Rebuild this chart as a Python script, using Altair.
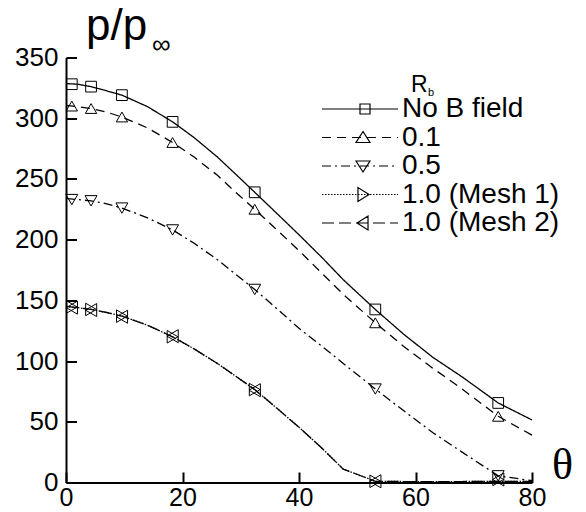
import altair as alt
import pandas as pd

# ---------------- data ----------------
series = ["No B field", "0.1", "0.5", "1.0 (Mesh 1)", "1.0 (Mesh 2)"]

# smooth curves
theta_line = [0, 2, 4.3, 7, 9.6, 14, 18.3, 22, 26, 29, 32.4, 36, 40, 44, 47.6, 53.1, 58, 63, 68, 74.2, 80]
p_line_nob = [328.5, 328, 326, 322.5, 319, 309.5, 297, 284, 268, 254.5, 239, 222.5, 204, 185, 167, 142.5, 122, 103, 87, 65.5, 51.5]
p_line_01 = [310.5, 309.5, 308, 305, 301, 292, 280, 268, 253, 239.5, 225, 209, 191, 172, 155, 131.5, 112, 94, 77, 54.5, 39]
p_line_05 = [234, 233, 232, 229.5, 226, 218, 208, 197, 183.5, 172, 159, 144, 127, 112, 98, 77, 59, 41, 25, 5.5, 1.5]
p_line_m1 = [145, 144, 142.5, 140, 137, 129.5, 120, 110, 98, 88, 76.5, 62, 45.5, 28, 11, 1, 0.8, 0.8, 0.8, 1, 0.8]
p_line_m2 = [145, 144, 142.5, 140, 137, 129.5, 120, 110, 98, 88, 76.5, 62, 45.5, 28, 11, 1, 0.8, 0.8, 0.8, 1, 0.8]

# symbols
theta_mark = [1.0, 4.3, 9.6, 18.3, 32.4, 53.1, 74.2]
p_mark_nob = [328, 326, 319, 297, 239, 142.5, 65.5]
p_mark_01 = [310, 308, 301, 280, 225, 131.5, 54.5]
p_mark_05 = [233, 232, 226, 208, 159, 77, 5.5]
p_mark_m1 = [144.5, 142.5, 137, 120, 76.5, 1, 2.5]
p_mark_m2 = [144, 142, 136.5, 120.5, 76, 1, 2.5]

x_ticks = [0, 20, 40, 60, 80]
y_ticks = [0, 50, 100, 150, 200, 250, 300, 350]

# ---------------- styles ----------------
FONT = "Liberation Sans"
dashes = [[1, 0], [9, 6], [9, 4, 2, 4], [1.5, 1.5], [12, 5]]
shapes = ["square", "triangle-up", "triangle-down", "triangle-right", "triangle-left"]
sizes = [115, 170, 170, 170, 170]

SYM_W = 76.0
HALF = SYM_W / 2


def seg_path(pattern):
    if pattern[1] == 0:
        return "M-1,0H1"
    parts = []
    x = 0.0
    i = 0
    on = True
    while x < SYM_W:
        L = pattern[i % len(pattern)]
        if on:
            x2 = min(x + L, SYM_W)
            parts.append(f"M{x / HALF - 1:.3f},0H{x2 / HALF - 1:.3f}")
        x += L
        i += 1
        on = not on
    return "".join(parts)


def u(px):
    return px / HALF


def marker_path(kind):
    if kind == "square":
        cx, a = u(5), u(5)
        return f"M{cx - a:.3f},{-a:.3f}H{cx + a:.3f}V{a:.3f}H{cx - a:.3f}Z"
    cx = u(3)
    if kind == "triangle-up":
        return f"M{cx:.3f},{u(-6):.3f}L{cx + u(7):.3f},{u(5):.3f}L{cx - u(7):.3f},{u(5):.3f}Z"
    if kind == "triangle-down":
        return f"M{cx:.3f},{u(6):.3f}L{cx + u(7):.3f},{u(-5):.3f}L{cx - u(7):.3f},{u(-5):.3f}Z"
    if kind == "triangle-right":
        return f"M{cx + u(6):.3f},0L{cx - u(5):.3f},{u(-7):.3f}L{cx - u(5):.3f},{u(7):.3f}Z"
    return f"M{cx - u(6):.3f},0L{cx + u(5):.3f},{u(-7):.3f}L{cx + u(5):.3f},{u(7):.3f}Z"


legend_paths = [seg_path(d) + marker_path(s) for d, s in zip(dashes, shapes)]

# ---------------- tables ----------------
line_vals = [p_line_nob, p_line_01, p_line_05, p_line_m1, p_line_m2]
mark_vals = [p_mark_nob, p_mark_01, p_mark_05, p_mark_m1, p_mark_m2]

df_line = pd.DataFrame(
    [{"series": s, "theta": t, "p": v} for s, vals in zip(series, line_vals) for t, v in zip(theta_line, vals)]
)
df_mark = pd.DataFrame(
    [{"series": s, "theta": t, "p": v} for s, vals in zip(series, mark_vals) for t, v in zip(theta_mark, vals)]
)

xscale = alt.Scale(domain=[0, 80], nice=False, zero=False)
yscale = alt.Scale(domain=[0, 350], nice=False, zero=False)

# inward major ticks drawn as one short dash of each grid line, next to the axis
x_axis = alt.Axis(values=x_ticks, ticks=False, grid=True, gridColor="black", gridOpacity=1,
                  gridWidth=2, gridDash=[0, 414.5, 10.5, 1000],
                  domainColor="black", domainWidth=2, labelFont=FONT, labelFontSize=25,
                  labelColor="black", labelPadding=3, labelFlush=False, labelOverlap=False, title=None)
y_axis = alt.Axis(values=y_ticks, ticks=False, grid=True, gridColor="black", gridOpacity=1,
                  gridWidth=2, gridDash=[10.5, 1000],
                  domainColor="black", domainWidth=2, labelFont=FONT, labelFontSize=26,
                  labelColor="black", labelPadding=8, labelFlush=False, labelOverlap=False, title=None)

lines = alt.Chart(df_line).mark_line(color="black", strokeWidth=1.3).encode(
    x=alt.X("theta:Q", scale=xscale, axis=x_axis),
    y=alt.Y("p:Q", scale=yscale, axis=y_axis),
    strokeDash=alt.StrokeDash("series:N", scale=alt.Scale(domain=series, range=dashes), legend=None),
    detail="series:N",
)

points = alt.Chart(df_mark).mark_point(filled=False, color="black", strokeWidth=1, opacity=1).encode(
    x=alt.X("theta:Q", scale=xscale),
    y=alt.Y("p:Q", scale=yscale),
    shape=alt.Shape("series:N", scale=alt.Scale(domain=series, range=shapes), legend=None),
    size=alt.Size("series:N", scale=alt.Scale(domain=series, range=sizes), legend=None),
)

legend_layer = alt.Chart(df_mark).mark_point(filled=False, color="black", strokeWidth=1.2, opacity=1).encode(
    shape=alt.Shape(
        "series:N",
        scale=alt.Scale(domain=series, range=legend_paths),
        legend=alt.Legend(
            title=None, orient="none", legendX=255, legendY=38.5, padding=0,
            symbolSize=SYM_W * SYM_W, symbolStrokeWidth=1.2, symbolStrokeColor="black",
            symbolFillColor="transparent", labelFont=FONT, labelFontSize=28, labelColor="black",
            labelOffset=3, rowPadding=0.5, symbolOffset=0, labelLimit=300, clipHeight=26,
        ),
    ),
).transform_filter(alt.datum.p < -1000)

# annotation texts (plot-area pixel coordinates)
t_p = alt.Chart(pd.DataFrame({"t": ["p/p"]})).mark_text(
    font=FONT, fontSize=44, align="left", baseline="alphabetic", color="black").encode(
    text="t:N", x=alt.value(20), y=alt.value(-17.5))
t_inf = alt.Chart(pd.DataFrame({"t": ["∞"]})).mark_text(
    font=FONT, fontSize=26, align="left", baseline="alphabetic", color="black").encode(
    text="t:N", x=alt.value(86), y=alt.value(-4.5))
t_R = alt.Chart(pd.DataFrame({"t": ["R"]})).mark_text(
    font=FONT, fontSize=23, align="left", baseline="alphabetic", color="black").encode(
    text="t:N", x=alt.value(345), y=alt.value(34.2))
t_b = alt.Chart(pd.DataFrame({"t": ["b"]})).mark_text(
    font=FONT, fontSize=11, align="left", baseline="alphabetic", color="black").encode(
    text="t:N", x=alt.value(362), y=alt.value(38.5))
t_theta = alt.Chart(pd.DataFrame({"t": ["θ"]})).mark_text(
    font="Liberation Serif", fontSize=44, align="left", baseline="alphabetic", color="black").encode(
    text="t:N", x=alt.value(486), y=alt.value(421.5))

chart = alt.layer(
    lines, points, t_p, t_inf, t_R, t_b, t_theta, legend_layer,
).resolve_scale(shape="independent").properties(
    width=466, height=425, background="white",
    padding={"left": 66, "top": 57.5, "right": 54, "bottom": 29.5},
    autosize=alt.AutoSizeParams(type="none"),
).configure_view(stroke=None)

chart.save("out.html", embed_options={"renderer": "svg", "actions": False})
